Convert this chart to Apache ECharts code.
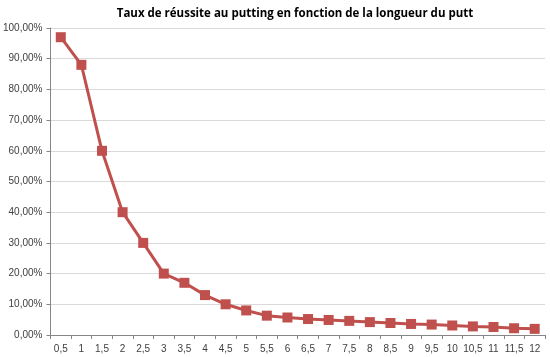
<!DOCTYPE html>
<html><head><meta charset="utf-8">
<script src="https://cdn.jsdelivr.net/npm/echarts@6/dist/echarts.min.js"></script>
<style>html,body{margin:0;padding:0;background:#fff}#c{width:550px;height:357px}</style>
</head><body><div id="c"></div>
<script>
const titleText = 'Taux de réussite au putting en fonction de la longueur du putt';
const categories = ['0,5','1','1,5','2','2,5','3','3,5','4','4,5','5','5,5','6','6,5','7','7,5','8','8,5','9','9,5','10','10,5','11','11,5','12'];
const successRate = [0.97,0.88,0.60,0.40,0.30,0.20,0.17,0.13,0.10,0.08,0.063,0.057,0.052,0.049,0.046,0.042,0.039,0.036,0.034,0.031,0.028,0.026,0.022,0.02];
const chart = echarts.init(document.getElementById('c'), null, {renderer:'canvas'});
chart.setOption({
  animation:false,
  backgroundColor:'#fff',
  title:{text:titleText,left:290,top:3,textAlign:'center',textStyle:{fontFamily:'Open Sans',fontSize:11.5,fontWeight:'bold',color:'#000'}},
  grid:{left:49,right:5,top:28,bottom:22,containLabel:false},
  xAxis:{type:'category',data:categories,boundaryGap:true,
    axisLine:{lineStyle:{color:'#868686'}},
    axisTick:{show:true,alignWithLabel:false,length:4,lineStyle:{color:'#868686'}},
    axisLabel:{interval:0,color:'#404040',fontFamily:'Liberation Sans',fontSize:10,margin:9}},
  yAxis:{type:'value',min:0,max:1,interval:0.1,
    axisLine:{show:true,lineStyle:{color:'#868686'}},
    axisTick:{show:true,length:4,lineStyle:{color:'#868686'}},
    splitLine:{lineStyle:{color:'#d9d9d9'}},
    axisLabel:{color:'#404040',fontFamily:'Liberation Sans',fontSize:10,margin:8,
      formatter:v=>(v*100).toFixed(2).replace('.',',')+'%'}},
  series:[{type:'line',data:successRate,symbol:'rect',symbolSize:10,
    lineStyle:{color:'#C0504D',width:3},itemStyle:{color:'#C0504D'}}]
});
</script></body></html>
